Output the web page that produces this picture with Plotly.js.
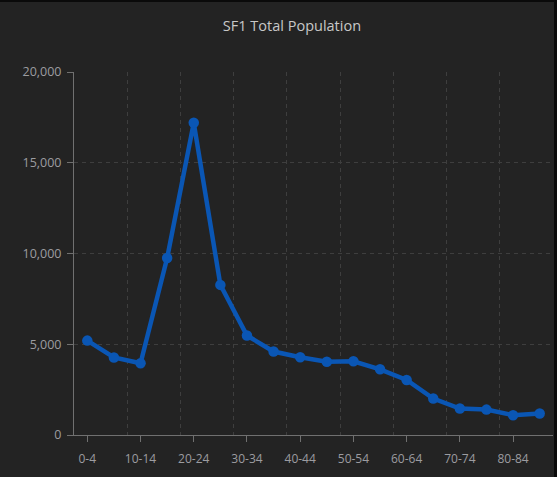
<!DOCTYPE html>
<html>
<head>
<meta charset="utf-8">
<script src="https://cdn.plot.ly/plotly-3.0.1.min.js"></script>
<style>
html,body{margin:0;padding:0;background:#0a0a0a;overflow:hidden;}
#chart{position:absolute;left:0;top:2px;width:554px;height:475px;}
</style>
</head>
<body>
<div id="chart"></div>
<script>
const categories = ["0-4","5-9","10-14","15-19","20-24","25-29","30-34","35-39","40-44","45-49","50-54","55-59","60-64","65-69","70-74","75-79","80-84","85+"];
const population = [5200,4270,3950,9750,17200,8270,5480,4600,4280,4040,4060,3620,3030,2010,1460,1400,1090,1180];
const yTicks = [0,5000,10000,15000,20000];
const yTickText = ["0","5,000","10,000","15,000","20,000"];

const xIdx = categories.map((c,i)=>i);
const labelIdx = xIdx.filter(i=>i%2===0);
const labelText = labelIdx.map(i=>categories[i]);

const trace = {
  type:'scatter', mode:'lines+markers',
  x:xIdx, y:population,
  text:categories,
  line:{color:'#0a56b4', width:4.5},
  marker:{color:'#0a56b4', size:10.5},
  hoverinfo:'text+y'
};

const layout = {
  width:554, height:475,
  paper_bgcolor:'#232323', plot_bgcolor:'#232323',
  margin:{l:74, r:1, t:70, b:42},
  showlegend:false,
  font:{family:'"Open Sans", "Noto Sans", sans-serif', color:'#9c9ca0', size:12},
  title:{text:'SF1 Total Population', x:0.527, xanchor:'center', y:0.95, yanchor:'middle',
         font:{size:14.5, color:'#c8c8c8', family:'"Open Sans", "Noto Sans", sans-serif'}},
  xaxis:{
    range:[-0.5,17.5], tickmode:'array', tickvals:labelIdx, ticktext:labelText,
    showgrid:false, zeroline:false,
    showline:true, linecolor:'#707070', linewidth:1,
    ticks:'outside', ticklen:6, tickcolor:'#707070', tickwidth:1,
    ticklabelstandoff:7,
    tickfont:{size:12, color:'#9c9ca0'},
    minor:{tick0:1.5, dtick:2, showgrid:true, gridcolor:'#3e3e3e', griddash:'4px,4px', gridwidth:1, ticks:''},
    fixedrange:true
  },
  yaxis:{
    range:[0,20000], tickmode:'array', tickvals:yTicks, ticktext:yTickText,
    showgrid:true, gridcolor:'#3e3e3e', griddash:'4px,4px', gridwidth:1,
    zeroline:false, showline:true, linecolor:'#707070', linewidth:1,
    ticks:'outside', ticklen:6, tickcolor:'#707070',
    ticklabelstandoff:3,
    tickfont:{size:12.5, color:'#9c9ca0'},
    fixedrange:true
  }
};

Plotly.newPlot('chart',[trace],layout,{displayModeBar:false, staticPlot:true});
</script>
</body>
</html>
